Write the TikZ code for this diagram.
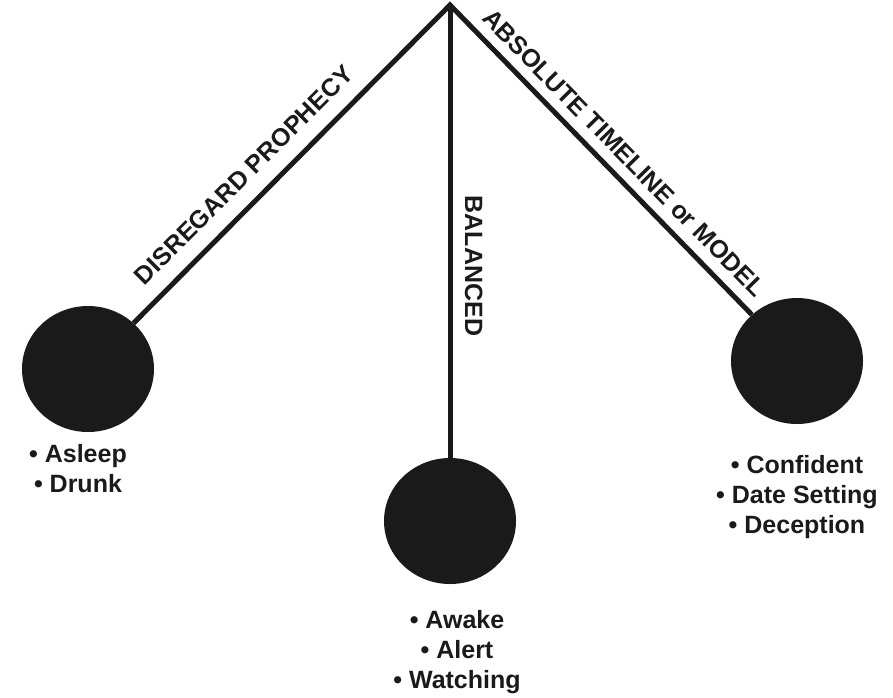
\documentclass[tikz,border=0pt]{standalone}
\usepackage{fontspec}
\setmainfont{Liberation Sans}
\usetikzlibrary{shapes.geometric}
\definecolor{ink}{HTML}{1A1A1A}
\tikzset{
  bob/.style={ellipse, fill=ink, draw=none, minimum width=132pt, minimum height=126pt, inner sep=0pt},
  rod/.style={draw=ink, line width=5pt, line join=miter},
  rodlabel/.style={font=\bfseries\fontsize{25}{30}\selectfont, text=ink, inner sep=0pt, anchor=base},
  traits/.style={font=\bfseries\fontsize{25}{30}\selectfont, text=ink, inner sep=0pt, align=center, anchor=north}
}
\begin{document}
\begin{tikzpicture}[x=1pt,y=-1pt]
\useasboundingbox (0,0) rectangle (893,697);
\coordinate (apex) at (450,5);
\node[bob] (L) at (88,369) {};
\node[bob] (M) at (450,521) {};
\node[bob] (R) at (797,361) {};
\draw[rod] (L) -- (apex) -- (R);
\draw[rod] (apex) -- (M);
\node[rodlabel, rotate=45] (tl) at (250,181) {DISREGARD PROPHECY};
\node[rodlabel, rotate=-90] (tm) at (465,266) {BALANCED};
\node[rodlabel, rotate=-45.5] (tr) at (618,159) {ABSOLUTE TIMELINE or MODEL};
\node[traits] (xl) at (78,444) {• Asleep\\• Drunk};
\node[traits] (xm) at (457,610) {• Awake\\• Alert\\• Watching};
\node[traits] (xr) at (797,455) {• Confident\\• Date Setting\\• Deception};
\end{tikzpicture}
\end{document}
